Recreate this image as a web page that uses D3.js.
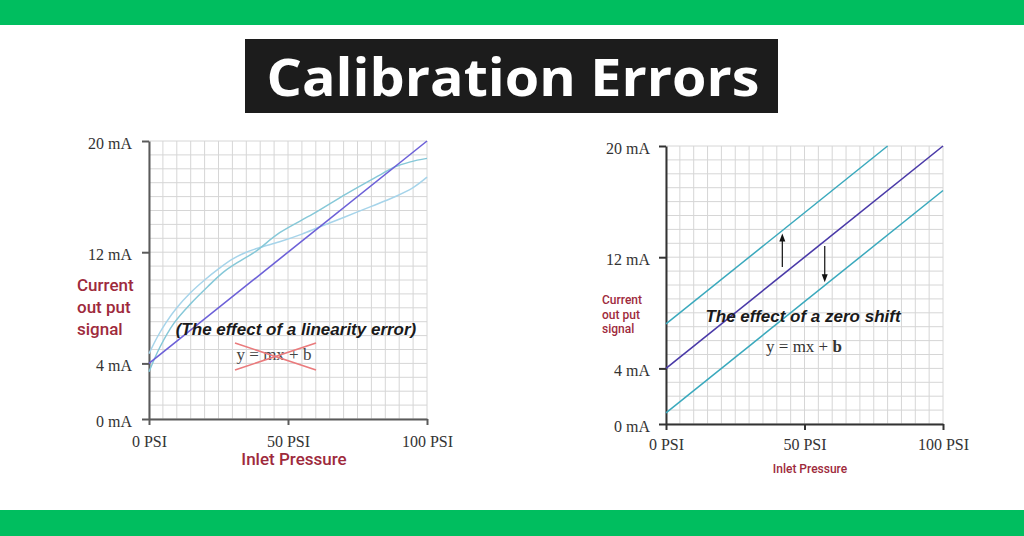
<!DOCTYPE html>
<html>
<head>
<meta charset="utf-8">
<script src="https://cdn.jsdelivr.net/npm/d3@7"></script>
<style>
  html, body { margin: 0; padding: 0; background: #fff; }
  svg { display: block; }
</style>
</head>
<body>
<svg id="chart" width="1024" height="536"></svg>
<script>
// ---------- data ----------
const titleText = "Calibration Errors";
const xTicks = [0, 50, 100];
const xTickLabels = ["0 PSI", "50 PSI", "100 PSI"];
const yTicks = [0, 4, 12, 20];
const yTickLabels = ["0 mA", "4 mA", "12 mA", "20 mA"];
const gridX = [0,5,10,15,20,25,30,35,40,45,50,55,60,65,70,75,80,85,90,95,100];
const gridY = [0,1,2,3,4,5,6,7,8,9,10,11,12,13,14,15,16,17,18,19,20];

// left chart: linearity error
const idealPsi = [0, 100];
const idealMa = [4, 20];
const curveAPsi = [0, 3, 6, 10, 15, 20, 25, 30, 35, 40, 47, 55, 61.5, 70, 80, 88, 95, 100];
const curveAMa  = [4.7, 5.9, 6.9, 8.0, 9.1, 10.0, 10.8, 11.5, 12.0, 12.35, 12.75, 13.3, 13.83, 14.5, 15.3, 15.95, 16.65, 17.4];
const curveBPsi = [0, 4, 9, 15, 21, 27, 33, 38, 47, 59, 71, 83, 88, 94, 100];
const curveBMa  = [3.4, 5.2, 6.9, 8.3, 9.5, 10.6, 11.4, 12.0, 13.4, 14.75, 16.2, 17.55, 18.1, 18.5, 18.75];

// right chart: zero shift
const shiftUpPsi = [0, 80];
const shiftUpMa = [7.2, 20];
const shiftDownPsi = [0, 100];
const shiftDownMa = [0.8, 16.8];
const arrowUp = { psi: 42, from: 11.3, to: 13.7 };
const arrowDown = { psi: 57.3, from: 12.8, to: 10.2 };

const yLabelLines = ["Current", "out put", "signal"];
const xLabelText = "Inlet Pressure";

// ---------- drawing ----------
const svg = d3.select("#chart");
const green = "#00be5f";
const red = "#9e2a3c";

svg.append("rect").attr("x", 0).attr("y", 0).attr("width", 1024).attr("height", 25).attr("fill", green);
svg.append("rect").attr("x", 0).attr("y", 510).attr("width", 1024).attr("height", 26).attr("fill", green);

svg.append("rect").attr("x", 245).attr("y", 39).attr("width", 533).attr("height", 74).attr("fill", "#1c1c1c");
const title = svg.append("text")
  .attr("x", 513).attr("y", 96)
  .attr("text-anchor", "middle")
  .attr("font-family", "'Open Sans', sans-serif")
  .attr("font-weight", 700)
  .attr("font-size", 52)
  .attr("fill", "#fff")
  .text(titleText);
const tw = title.node().getComputedTextLength();
if (Math.abs(tw - 493) > 4) {
  title.attr("textLength", 493).attr("lengthAdjust", "spacingAndGlyphs");
}

function drawPanel(cfg) {
  const x = d3.scaleLinear().domain([0, 100]).range([cfg.x0, cfg.x1]);
  const y = d3.scaleLinear().domain([0, 20]).range([cfg.y0, cfg.y1]);
  const g = svg.append("g");

  // grid
  g.append("g").selectAll("line.v").data(gridX).join("line")
    .attr("x1", d => x(d)).attr("x2", d => x(d))
    .attr("y1", y(0)).attr("y2", y(20))
    .attr("stroke", "#d6d6d6").attr("stroke-width", 1);
  g.append("g").selectAll("line.h").data(gridY).join("line")
    .attr("x1", x(0)).attr("x2", x(100))
    .attr("y1", d => y(d)).attr("y2", d => y(d))
    .attr("stroke", "#d6d6d6").attr("stroke-width", 1);

  // axes
  const yAxis = d3.axisLeft(y).tickValues(yTicks)
    .tickFormat((d, i) => yTickLabels[i])
    .tickSize(7).tickSizeOuter(0).tickPadding(cfg.yPad);
  const ya = g.append("g").attr("transform", `translate(${x(0)},0)`).call(yAxis);
  const xAxis = d3.axisBottom(x).tickValues(xTicks)
    .tickFormat((d, i) => xTickLabels[i])
    .tickSize(6).tickSizeOuter(0).tickPadding(cfg.xPad);
  const xa = g.append("g").attr("transform", `translate(0,${y(0)})`).call(xAxis);
  [ya, xa].forEach(a => {
    a.select(".domain").attr("stroke", cfg.axisColor).attr("stroke-width", 2);
    a.selectAll(".tick line").attr("stroke", cfg.axisColor).attr("stroke-width", 2);
    a.selectAll(".tick text")
      .attr("font-family", "'Liberation Serif', 'Times New Roman', serif")
      .attr("font-size", 16).attr("fill", "#333");
  });
  ya.selectAll(".tick text").attr("dy", "0.44em");

  return { g, x, y };
}

// ----- left panel -----
const L = drawPanel({ x0: 149, x1: 427, y0: 419, y1: 141, yPad: 10, xPad: 11, axisColor: "#5a5a5a" });
const lineL = d3.line().x(d => L.x(d[0])).y(d => L.y(d[1])).curve(d3.curveCatmullRom.alpha(0.5));
L.g.append("path").datum(curveAPsi.map((p, i) => [p, curveAMa[i]]))
  .attr("d", lineL).attr("fill", "none").attr("stroke", "#a6d4ea").attr("stroke-width", 1.5);
L.g.append("path").datum(curveBPsi.map((p, i) => [p, curveBMa[i]]))
  .attr("d", lineL).attr("fill", "none").attr("stroke", "#86c8d8").attr("stroke-width", 1.5);
L.g.append("path").datum(idealPsi.map((p, i) => [p, idealMa[i]]))
  .attr("d", d3.line().x(d => L.x(d[0])).y(d => L.y(d[1])))
  .attr("fill", "none").attr("stroke", "#6c60d8").attr("stroke-width", 1.6);

L.g.append("text").attr("x", 296).attr("y", 335).attr("text-anchor", "middle")
  .attr("font-family", "'Liberation Sans', Arial, sans-serif").attr("font-weight", 700)
  .attr("font-style", "italic").attr("font-size", 17).attr("fill", "#1a1a1a")
  .text("(The effect of a linearity error)");
L.g.append("text").attr("x", 274).attr("y", 360).attr("text-anchor", "middle")
  .attr("font-family", "'Liberation Serif', 'Times New Roman', serif")
  .attr("font-size", 17).attr("fill", "#444").text("y = mx + b");
L.g.append("line").attr("x1", 235).attr("y1", 343).attr("x2", 316).attr("y2", 370)
  .attr("stroke", "#ea7a7c").attr("stroke-width", 1.6);
L.g.append("line").attr("x1", 235).attr("y1", 370).attr("x2", 316).attr("y2", 343)
  .attr("stroke", "#ea7a7c").attr("stroke-width", 1.6);

L.g.append("g").selectAll("text").data(yLabelLines).join("text")
  .attr("x", 77).attr("y", (d, i) => 291 + i * 22.2)
  .attr("font-family", "Roboto, sans-serif").attr("font-weight", 500)
  .attr("font-size", 17).attr("fill", red).text(d => d);
L.g.append("text").attr("x", 294).attr("y", 465).attr("text-anchor", "middle")
  .attr("font-family", "Roboto, sans-serif").attr("font-weight", 500)
  .attr("font-size", 17).attr("fill", red).text(xLabelText);

// ----- right panel -----
const R = drawPanel({ x0: 666, x1: 943, y0: 424, y1: 146, yPad: 9, xPad: 9, axisColor: "#333" });
const lineR = d3.line().x(d => R.x(d[0])).y(d => R.y(d[1]));
R.g.append("path").datum(shiftUpPsi.map((p, i) => [p, shiftUpMa[i]]))
  .attr("d", lineR).attr("fill", "none").attr("stroke", "#3aa9bd").attr("stroke-width", 1.5);
R.g.append("path").datum(shiftDownPsi.map((p, i) => [p, shiftDownMa[i]]))
  .attr("d", lineR).attr("fill", "none").attr("stroke", "#3aa9bd").attr("stroke-width", 1.5);
R.g.append("path").datum(idealPsi.map((p, i) => [p, idealMa[i]]))
  .attr("d", lineR).attr("fill", "none").attr("stroke", "#4a3aa8").attr("stroke-width", 1.6);

function arrow(a) {
  const ax = R.x(a.psi), y1 = R.y(a.from), y2 = R.y(a.to);
  const dir = y2 < y1 ? 1 : -1;
  R.g.append("line").attr("x1", ax).attr("x2", ax).attr("y1", y1).attr("y2", y2 + dir * 6)
    .attr("stroke", "#222").attr("stroke-width", 1.3);
  R.g.append("path")
    .attr("d", `M${ax},${y2} L${ax - 3},${y2 + dir * 8} L${ax + 3},${y2 + dir * 8} Z`)
    .attr("fill", "#111");
}
arrow(arrowUp);
arrow(arrowDown);

R.g.append("text").attr("x", 803).attr("y", 322).attr("text-anchor", "middle")
  .attr("font-family", "'Liberation Sans', Arial, sans-serif").attr("font-weight", 700)
  .attr("font-style", "italic").attr("font-size", 17).attr("fill", "#1a1a1a")
  .text("The effect of a zero shift");
const eqR = R.g.append("text").attr("x", 804).attr("y", 352).attr("text-anchor", "middle")
  .attr("font-family", "'Liberation Serif', 'Times New Roman', serif")
  .attr("font-size", 17).attr("fill", "#333");
eqR.append("tspan").text("y = mx + ");
eqR.append("tspan").attr("font-weight", 700).text("b");

R.g.append("g").selectAll("text").data(yLabelLines).join("text")
  .attr("x", 602).attr("y", (d, i) => 304 + i * 14.5)
  .attr("font-family", "Roboto, sans-serif").attr("font-weight", 500)
  .attr("font-size", 12).attr("fill", red).text(d => d);
R.g.append("text").attr("x", 810).attr("y", 473).attr("text-anchor", "middle")
  .attr("font-family", "Roboto, sans-serif").attr("font-weight", 500)
  .attr("font-size", 12).attr("fill", red).text(xLabelText);
</script>
</body>
</html>
